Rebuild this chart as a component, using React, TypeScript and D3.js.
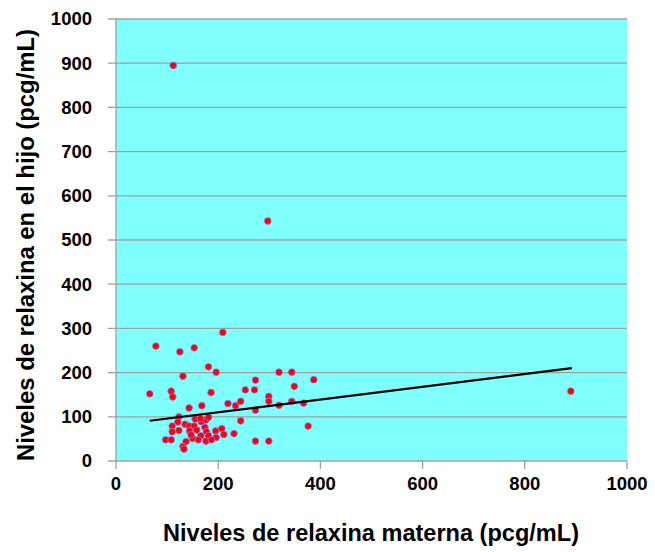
import * as React from 'react'
import {scaleLinear, range} from 'd3'

// relaxina materna (x) vs. relaxina en el hijo (y), pcg/mL
const materna = [
  209, 78, 125, 153, 181, 196, 319, 131, 273, 66, 108, 111, 186, 253, 271, 299, 299, 319,
  244, 234, 219, 168, 143, 273, 244, 123, 121, 110, 135, 110, 123, 143, 153, 167, 176, 181,
  155, 165, 144, 158, 174, 177, 195, 207, 211, 231, 166, 181, 196, 150, 161, 176, 187, 137,
  97, 108, 131, 133, 273, 299, 147, 344, 387, 349, 344, 367, 376, 112, 297, 890,
]
const hijo = [
  291, 260, 247, 256, 213, 201, 201, 192, 183, 152, 158, 145, 155, 161, 161, 146, 135, 126,
  135, 125, 130, 125, 120, 115, 91, 100, 88, 79, 83, 66, 69, 79, 79, 89, 93, 99,
  95, 96, 68, 70, 76, 66, 68, 73, 60, 62, 57, 57, 53, 51, 48, 45, 48, 44,
  48, 48, 33, 27, 45, 45, 59, 201, 184, 169, 135, 131, 79, 895, 543, 158,
]
// línea de tendencia lineal (extremos)
const trendX = [66, 892]
const trendY = [91, 210]

const xTicks = range(0, 1001, 200)
const yTicks = range(0, 1001, 100)

const left = 116
const right = 627
const top = 19
const bottom = 461

export default function App() {
  const x = scaleLinear().domain([0, 1000]).range([left, right])
  const y = scaleLinear().domain([0, 1000]).range([bottom, top])
  const font = '"Liberation Sans", Arial, sans-serif'

  return (
    <svg width={655} height={552} style={{position: 'absolute', left: 0, top: 0}}>
      <rect x={left} y={top} width={right - left} height={bottom - top} fill="#80ffff" />
      {yTicks.map(t => (
        <g key={'y' + t}>
          <line x1={left - 8} x2={right} y1={y(t)} y2={y(t)} stroke="#a0a0a0" strokeWidth={1.3} />
          <text x={92} y={y(t)} dy="0.35em" textAnchor="end" fontFamily={font}
            fontWeight="bold" fontSize={18.5} fill="#000">{t}</text>
        </g>
      ))}
      <line x1={left} x2={left} y1={top} y2={bottom} stroke="#a0a0a0" strokeWidth={1.3} />
      {xTicks.map(t => (
        <g key={'x' + t}>
          <line x1={x(t)} x2={x(t)} y1={bottom} y2={bottom + 8} stroke="#a0a0a0" strokeWidth={1.3} />
          <text x={x(t)} y={490} textAnchor="middle" fontFamily={font}
            fontWeight="bold" fontSize={18.5} fill="#000">{t}</text>
        </g>
      ))}
      {materna.map((d, i) => (
        <circle key={i} cx={x(d)} cy={y(hijo[i])} r={3.4} fill="#ff0000"
          stroke="#8a7cff" strokeWidth={0.8} />
      ))}
      <line x1={x(trendX[0])} y1={y(trendY[0])} x2={x(trendX[1])} y2={y(trendY[1])}
        stroke="#000" strokeWidth={2.2} />
      <text x={371} y={541} textAnchor="middle" fontFamily={font} fontWeight="bold"
        fontSize={23} textLength={416} lengthAdjust="spacingAndGlyphs" fill="#000">
        Niveles de relaxina materna (pcg/mL)
      </text>
      <text transform={`translate(34, 245) rotate(-90)`} textAnchor="middle"
        fontFamily={font} fontWeight="bold" fontSize={23} textLength={432}
        lengthAdjust="spacingAndGlyphs" fill="#000">
        Niveles de relaxina en el hijo (pcg/mL)
      </text>
    </svg>
  )
}
